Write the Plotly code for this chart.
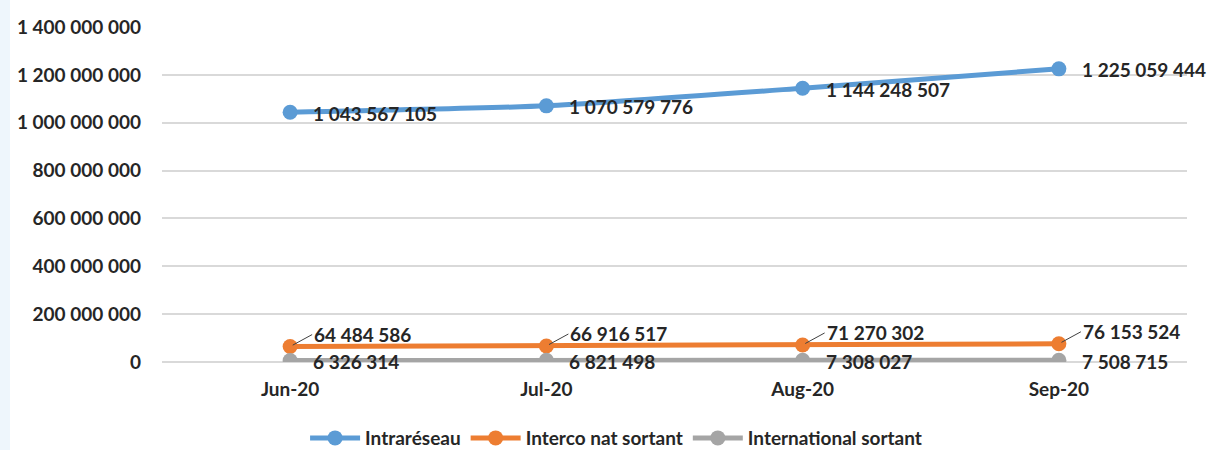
import plotly.graph_objects as go

months = ["Jun-20", "Jul-20", "Aug-20", "Sep-20"]
intrareseau = [1043567105, 1070579776, 1144248507, 1225059444]
interco = [64484586, 66916517, 71270302, 76153524]
international = [6326314, 6821498, 7308027, 7508715]
y_ticks = [0, 200000000, 400000000, 600000000, 800000000, 1000000000, 1200000000, 1400000000]

BLUE = "#5B9BD5"
ORANGE = "#ED7D31"
GREY = "#A5A5A5"
TXT = "#262626"
FONT = "Lato"
FS = 19

fig = go.Figure()
fig.add_trace(go.Scatter(x=months, y=intrareseau, name="Intraréseau", mode="lines+markers",
                         line=dict(color=BLUE, width=5, shape="spline", smoothing=0.5),
                         marker=dict(size=15, color=BLUE)))
fig.add_trace(go.Scatter(x=months, y=interco, name="Interco nat sortant", mode="lines+markers",
                         line=dict(color=ORANGE, width=5),
                         marker=dict(size=15, color=ORANGE)))
fig.add_trace(go.Scatter(x=months, y=international, name="International sortant", mode="lines+markers",
                         line=dict(color=GREY, width=5),
                         marker=dict(size=15, color=GREY)))

def fmt(v):
    return f"{v:,}".replace(",", " ")

lab_font = dict(size=FS, color=TXT, family=FONT, weight="bold")
annotations = []
for m, v in zip(months, intrareseau):
    annotations.append(dict(x=m, y=v, text=fmt(v), showarrow=False, xanchor="left",
                            xshift=21, yshift=-1, font=lab_font))
for m, v in zip(months, international):
    annotations.append(dict(x=m, y=v, text=fmt(v), showarrow=False, xanchor="left",
                            xshift=21, yshift=-1, font=lab_font))
for m, v in zip(months, interco):
    annotations.append(dict(x=m, y=v, text=fmt(v), showarrow=True, arrowhead=0, arrowwidth=1,
                            arrowcolor="#404040", ax=22, ay=-12, xanchor="left", yanchor="middle",
                            standoff=3, font=lab_font))

fig.update_layout(
    width=1208, height=450,
    margin=dict(l=162, r=21, t=27, b=88, autoexpand=False),
    paper_bgcolor="white", plot_bgcolor="white",
    separators=". ",
    font=dict(family=FONT, size=FS, color=TXT, weight="bold"),
    showlegend=True,
    legend=dict(orientation="h", xref="container", x=0.51, xanchor="center",
                yref="paper", y=-0.227, yanchor="middle",
                font=lab_font, itemwidth=50),
    annotations=annotations,
    shapes=[dict(type="rect", xref="paper", yref="paper", xsizemode="pixel", xanchor=0,
                 x0=-162, x1=-152, y0=-0.3, y1=1.1, fillcolor="#EEF6FC", line=dict(width=0), layer="below")],
)
fig.update_xaxes(type="category", range=[-0.5, 3.5], showgrid=False, showline=False, zeroline=False,
                 ticks="", ticklabelstandoff=14, tickfont=lab_font)
fig.update_yaxes(range=[0, 1400000000], tickvals=y_ticks, tickformat=",d", showgrid=True,
                 gridcolor="#D9D9D9", gridwidth=1.5, zeroline=True, zerolinecolor="#D9D9D9", zerolinewidth=1.5,
                 showline=False, ticks="", ticklabelstandoff=20, tickfont=lab_font)

fig.write_html("out.html", config={"displayModeBar": False},
               post_script="document.body.style.margin='0';document.body.style.overflow='hidden';")
